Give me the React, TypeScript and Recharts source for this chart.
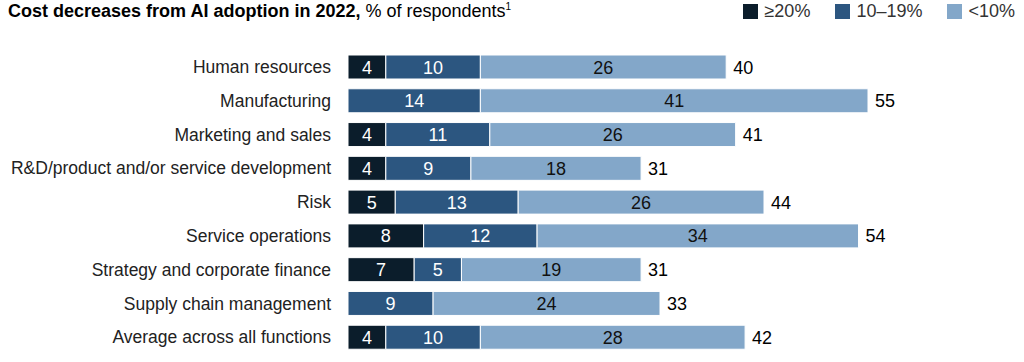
import { BarChart, Bar, XAxis, YAxis, LabelList } from "recharts";

const functions = [
  "Human resources",
  "Manufacturing",
  "Marketing and sales",
  "R&D/product and/or service development",
  "Risk",
  "Service operations",
  "Strategy and corporate finance",
  "Supply chain management",
  "Average across all functions",
];
const over20 = [4, 0, 4, 4, 5, 8, 7, 0, 4];
const from10to19 = [10, 14, 11, 9, 13, 12, 5, 9, 10];
const under10 = [26, 41, 26, 18, 26, 34, 19, 24, 28];

const COLORS = { over20: "#0b1d2b", mid: "#2c5680", low: "#83a7c9" };
const FONT = "'Liberation Sans', Arial, sans-serif";

const data = functions.map((name, i) => ({
  name,
  over20: over20[i],
  mid: from10to19[i],
  low: under10[i],
  total: over20[i] + from10to19[i] + under10[i],
}));

// skip labels on empty segments
const inside = (fill: string) => (props: any) => {
  const { x, y, width, height, value } = props;
  if (!value) return null;
  return (
    <text
      x={x + width / 2}
      y={y + height / 2}
      dy={6.5}
      textAnchor="middle"
      fill={fill}
      fontSize={18}
      fontFamily={FONT}
    >
      {value}
    </text>
  );
};

const totalLabel = (props: any) => {
  const { x, y, width, height, index } = props;
  return (
    <text
      x={x + width + 7}
      y={y + height / 2}
      dy={6.5}
      fill="#000"
      fontSize={18}
      fontFamily={FONT}
    >
      {data[index].total}
    </text>
  );
};

function Legend() {
  const items = [
    { label: "≥20%", color: COLORS.over20 },
    { label: "10–19%", color: COLORS.mid },
    { label: "<10%", color: COLORS.low },
  ];
  return (
    <div
      style={{
        position: "absolute",
        top: 1,
        right: 9,
        display: "flex",
        gap: 25,
        fontFamily: FONT,
        fontSize: 18,
        color: "#333",
      }}
    >
      {items.map((it) => (
        <div key={it.label} style={{ display: "flex", alignItems: "center", gap: 6 }}>
          <span style={{ width: 15, height: 15, background: it.color, display: "inline-block" }} />
          {it.label}
        </div>
      ))}
    </div>
  );
}

export default function App() {
  return (
    <div
      style={{
        position: "absolute",
        left: 0,
        top: 0,
        width: 1024,
        height: 362,
        background: "#fff",
        fontFamily: FONT,
      }}
    >
      <div style={{ position: "absolute", left: 8, top: 1, fontSize: 18, color: "#000" }}>
        <b>Cost decreases from AI adoption in 2022,</b> % of respondents
        <sup style={{ fontSize: 10 }}>1</sup>
      </div>
      <Legend />
      <BarChart
        width={1024}
        height={362}
        data={data}
        layout="vertical"
        margin={{ top: 50, right: 0, bottom: 8, left: 0 }}
        barSize={24}
      >
        <XAxis type="number" hide domain={[0, 71.5]} allowDataOverflow />
        <YAxis
          type="category"
          dataKey="name"
          width={348}
          axisLine={false}
          tickLine={false}
          tickMargin={11}
          tick={{ fill: "#222", fontSize: 17.5, fontFamily: FONT }}
        />
        <Bar dataKey="over20" stackId="a" fill={COLORS.over20} stroke="#fff" strokeWidth={1} isAnimationActive={false}>
          <LabelList dataKey="over20" content={inside("#fff")} />
        </Bar>
        <Bar dataKey="mid" stackId="a" fill={COLORS.mid} stroke="#fff" strokeWidth={1} isAnimationActive={false}>
          <LabelList dataKey="mid" content={inside("#fff")} />
        </Bar>
        <Bar dataKey="low" stackId="a" fill={COLORS.low} stroke="#fff" strokeWidth={1} isAnimationActive={false}>
          <LabelList dataKey="low" content={inside("#111")} />
          <LabelList dataKey="low" content={totalLabel} />
        </Bar>
      </BarChart>
    </div>
  );
}
